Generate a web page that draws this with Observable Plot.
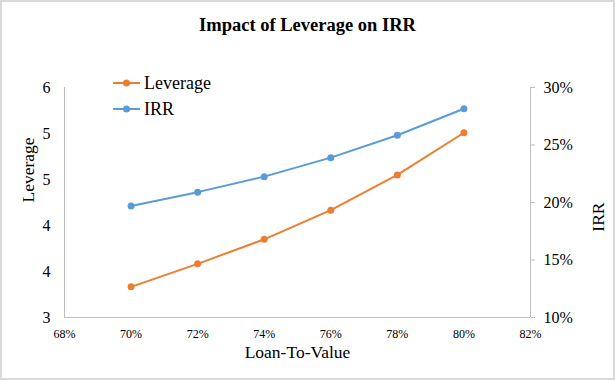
<!DOCTYPE html>
<html>
<head>
<meta charset="utf-8">
<script src="https://cdn.jsdelivr.net/npm/d3@7"></script>
<script src="https://cdn.jsdelivr.net/npm/@observablehq/plot@0.6"></script>
<style>
  html, body { margin: 0; padding: 0; background: #fff; }
  #wrap { position: relative; width: 615px; height: 380px; box-sizing: border-box; border: 2px solid #d9d9d9; background: #fff; font-family: "Liberation Serif", serif; }
  #title { height: 48px; line-height: 47px; text-align: center; font-weight: bold; font-size: 18.5px; color: #000; }
  #legend { position: absolute; left: 110px; top: 68px; font-size: 18px; color: #000; }
  .row { display: flex; align-items: center; height: 26px; }
  .row svg { margin-right: 3px; }
  #chart svg, #chart svg text { font-family: "Liberation Serif", serif !important; }
</style>
</head>
<body>
<div id="wrap">
  <div id="title">Impact of Leverage on IRR</div>
  <div id="chart"></div>
  <div id="legend"></div>
</div>
<script>
const ltv = [0.70, 0.72, 0.74, 0.76, 0.78, 0.80];
const leverage = [3.40, 3.70, 4.02, 4.40, 4.86, 5.41];
const irr = [0.197, 0.209, 0.2225, 0.239, 0.2585, 0.2815];
const xTicks = [0.68, 0.70, 0.72, 0.74, 0.76, 0.78, 0.80, 0.82];
const levTicks = [3, 3.6, 4.2, 4.8, 5.4, 6];
const irrTicks = [0.10, 0.15, 0.20, 0.25, 0.30];
const levDomain = [3, 6];
const irrDomain = [0.10, 0.30];
const xDomain = [0.68, 0.82];
const seriesNames = ["Leverage", "IRR"];
const colors = ["#ED7D31", "#5B9BD5"];

// map IRR onto the leverage (left) scale
const toLev = v => levDomain[0] + (v - irrDomain[0]) / (irrDomain[1] - irrDomain[0]) * (levDomain[1] - levDomain[0]);
const fromLev = v => irrDomain[0] + (v - levDomain[0]) / (levDomain[1] - levDomain[0]) * (irrDomain[1] - irrDomain[0]);

const levData = ltv.map((x, i) => ({x, y: leverage[i]}));
const irrData = ltv.map((x, i) => ({x, y: toLev(irr[i])}));

const pct = d3.format(".0%");
const axisColor = "#bfbfbf";
const serif = "Liberation Serif";

const plot = Plot.plot({
  width: 611,
  height: 328,
  marginLeft: 62,
  marginRight: 83,
  marginTop: 37,
  marginBottom: 61,
  style: { fontFamily: serif, color: "#000", background: "#fff" },
  x: { domain: xDomain },
  y: { domain: levDomain },
  marks: [
    Plot.ruleX([xDomain[0]], { stroke: axisColor, strokeWidth: 1 }),
    Plot.ruleX([xDomain[1]], { stroke: axisColor, strokeWidth: 1 }),
    Plot.ruleY([levDomain[0]], { stroke: axisColor, strokeWidth: 1 }),
    Plot.axisX(xTicks, { tickFormat: pct, tickSize: 0, tickPadding: 12, fontSize: 12, fontFamily: serif, label: null }),
    Plot.axisY(levTicks, { anchor: "left", tickFormat: d3.format(".0f"), tickSize: 0, tickPadding: 14, fontSize: 16, fontFamily: serif, label: null }),
    Plot.axisY(irrTicks.map(toLev), { anchor: "right", tickFormat: d => pct(fromLev(d)), tickSize: 4, tickPadding: 9, stroke: axisColor, fontSize: 16, fontFamily: serif, label: null }),
    Plot.text(["Loan-To-Value"], { frameAnchor: "bottom", dy: 40, fontSize: 17.5, fontFamily: serif }),
    Plot.text(["Leverage"], { frameAnchor: "left", dx: -36, rotate: -90, fontSize: 17.5, fontFamily: serif }),
    Plot.text(["IRR"], { frameAnchor: "right", dx: 68, rotate: -90, fontSize: 17.5, fontFamily: serif }),
    Plot.line(levData, { x: "x", y: "y", stroke: colors[0], strokeWidth: 2 }),
    Plot.dot(levData, { x: "x", y: "y", fill: colors[0], r: 3.5 }),
    Plot.line(irrData, { x: "x", y: "y", stroke: colors[1], strokeWidth: 2 }),
    Plot.dot(irrData, { x: "x", y: "y", fill: colors[1], r: 3.5 })
  ]
});
document.getElementById("chart").appendChild(plot);

const legend = document.getElementById("legend");
seriesNames.forEach((name, i) => {
  const row = document.createElement("div");
  row.className = "row";
  row.innerHTML = `<svg width="29" height="10"><line x1="1" y1="5" x2="28" y2="5" stroke="${colors[i]}" stroke-width="2"/><circle cx="14.5" cy="5" r="3.5" fill="${colors[i]}"/></svg><span>${name}</span>`;
  legend.appendChild(row);
});
</script>
</body>
</html>
